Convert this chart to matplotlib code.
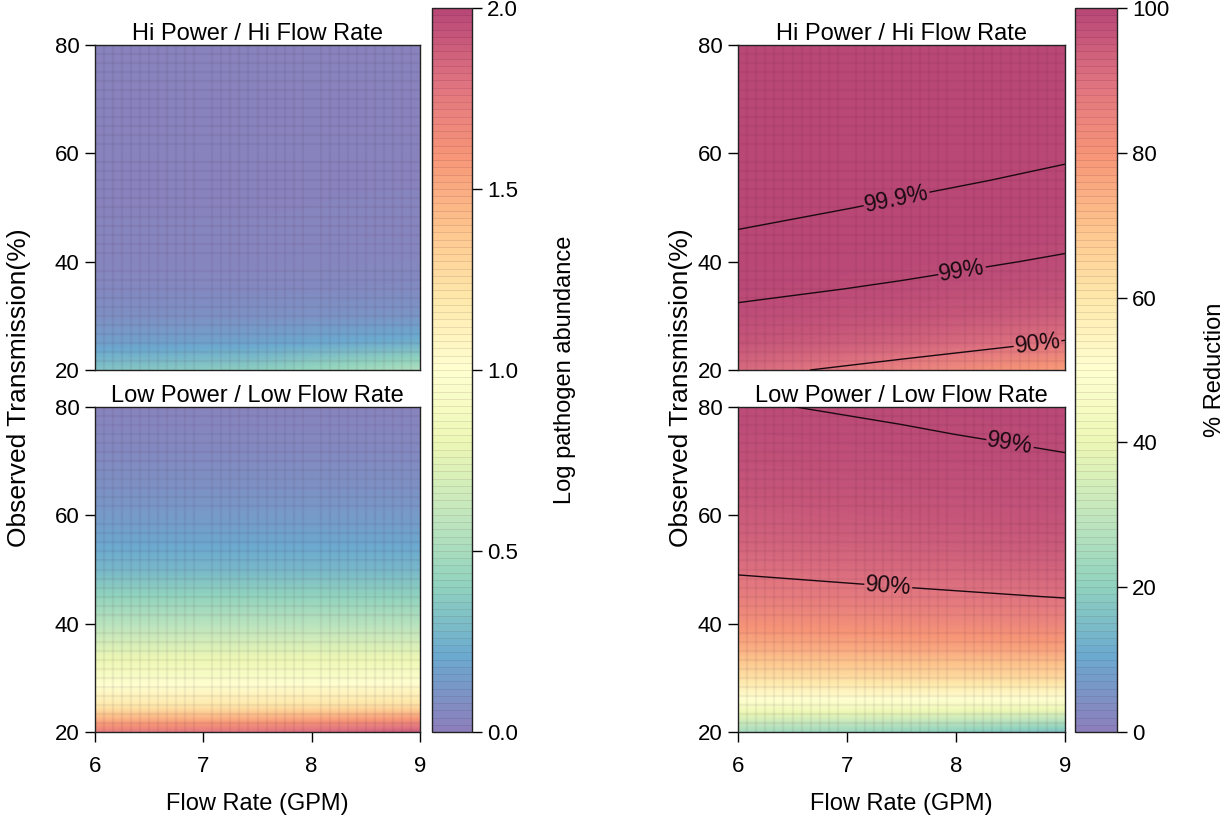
import numpy as np
import matplotlib
matplotlib.use("Agg")
import matplotlib.pyplot as plt
from matplotlib.colors import ListedColormap, Normalize
from matplotlib.cm import ScalarMappable

plt.rcParams["font.family"] = ["Liberation Sans", "DejaVu Sans"]

# ---------------------------------------------------------------------------
# Data: rows follow transmission_pct, columns follow flow_gpm
# ---------------------------------------------------------------------------
flow_gpm = [6.0, 7.5, 9.0]
transmission_pct = [20, 25, 30, 35, 40, 45, 50, 55, 60, 65, 70, 75, 80]

# remaining log pathogen abundance
log_abund_hi = [
    [0.33, 0.38, 0.52],
    [0.16, 0.18, 0.24],
    [0.08, 0.09, 0.11],
    [0.05, 0.05, 0.06],
    [0.03, 0.03, 0.04],
    [0.03, 0.03, 0.03],
    [0.02, 0.02, 0.03],
    [0.02, 0.02, 0.02],
    [0.02, 0.02, 0.02],
    [0.02, 0.02, 0.02],
    [0.02, 0.02, 0.02],
    [0.02, 0.02, 0.02],
    [0.02, 0.02, 0.02],
]
log_abund_low = [
    [1.74, 1.80, 1.92],
    [1.18, 1.20, 1.24],
    [0.93, 0.94, 0.95],
    [0.74, 0.74, 0.74],
    [0.56, 0.56, 0.55],
    [0.41, 0.41, 0.40],
    [0.27, 0.27, 0.27],
    [0.19, 0.19, 0.19],
    [0.13, 0.13, 0.13],
    [0.09, 0.09, 0.09],
    [0.06, 0.06, 0.06],
    [0.04, 0.04, 0.04],
    [0.02, 0.02, 0.02],
]

# log10 reduction (1 = 90 %, 2 = 99 %, 3 = 99.9 %)
log_red_hi = [
    [1.11, 0.86, 0.66],
    [1.47, 1.21, 0.97],
    [1.82, 1.55, 1.28],
    [2.19, 1.90, 1.59],
    [2.56, 2.23, 1.91],
    [2.93, 2.56, 2.21],
    [3.30, 2.88, 2.52],
    [3.67, 3.21, 2.82],
    [4.04, 3.54, 3.12],
    [4.41, 3.86, 3.42],
    [4.78, 4.19, 3.73],
    [5.15, 4.51, 4.03],
    [5.52, 4.84, 4.33],
]
log_red_low = [
    [0.12, 0.10, 0.07],
    [0.27, 0.27, 0.26],
    [0.42, 0.44, 0.45],
    [0.58, 0.61, 0.63],
    [0.73, 0.77, 0.82],
    [0.88, 0.94, 1.01],
    [1.03, 1.11, 1.20],
    [1.18, 1.27, 1.38],
    [1.33, 1.44, 1.57],
    [1.48, 1.61, 1.76],
    [1.64, 1.78, 1.94],
    [1.79, 1.94, 2.13],
    [1.94, 2.11, 2.32],
]

contour_levels = [1, 2, 3]
contour_text = {1: "90%", 2: "99%", 3: "99.9%"}

panel_titles = ["Hi Power / Hi Flow Rate", "Low Power / Low Flow Rate"]
abund_ticks = [0.0, 0.5, 1.0, 1.5, 2.0]
reduction_ticks = [0, 20, 40, 60, 80, 100]
flow_ticks = [6, 7, 8, 9]
trans_ticks = [20, 40, 60, 80]

# ---------------------------------------------------------------------------
# Colours: Spectral (reversed) washed with white, as semi-transparent fills
# ---------------------------------------------------------------------------
WASH = 0.72
base = plt.get_cmap("Spectral_r")


def washed(n):
    c = base(np.linspace(0, 1, n))
    c[:, :3] = WASH * c[:, :3] + (1 - WASH)
    return ListedColormap(c)


field_cmap = washed(512)
bar_cmap = washed(100)

W, H = 1231, 818
fig = plt.figure(figsize=(W / 100, H / 100), dpi=100)


def box(left, top, right, bottom):
    return [left / W, 1 - bottom / H, (right - left) / W, (bottom - top) / H]


FS_TICK = 16
FS_TEXT = 17
FS_YLAB = 19


def percent(lrv):
    return 100.0 * (1.0 - 10.0 ** (-np.asarray(lrv, dtype=float)))


def draw_field(ax, z, vmin, vmax):
    fx = np.asarray(flow_gpm)
    ty = np.asarray(transmission_pct, dtype=float)
    hx = (fx[1] - fx[0]) / 2
    hy = (ty[1] - ty[0]) / 2
    ax.imshow(np.asarray(z), origin="lower", aspect="auto",
              extent=(fx[0] - hx, fx[-1] + hx, ty[0] - hy, ty[-1] + hy),
              cmap=field_cmap, vmin=vmin, vmax=vmax,
              interpolation="bilinear", interpolation_stage="data", zorder=0)
    ax.set_xlim(fx[0], fx[-1])
    ax.set_ylim(ty[0], ty[-1])
    # fine cell seams of the rendered raster
    ax.set_xticks(np.linspace(fx[0], fx[-1], 37), minor=True)
    ax.set_yticks(np.linspace(ty[0], ty[-1], 37), minor=True)
    ax.grid(which="minor", color="#3a1030", alpha=0.06, lw=1.6)
    ax.grid(which="major", visible=False)
    ax.tick_params(which="minor", length=0)


def style_axes(ax, title, bottom):
    ax.set_title(title, fontsize=FS_TEXT, pad=2)
    ax.set_yticks(trans_ticks)
    ax.set_xticks(flow_ticks)
    ax.tick_params(which="major", direction="out", length=7, width=1,
                   labelsize=FS_TICK, pad=4)
    if not bottom:
        ax.tick_params(axis="x", which="major", bottom=False, labelbottom=False)
    else:
        ax.tick_params(axis="x", pad=10)
    for s in ax.spines.values():
        s.set_linewidth(1.0)
        s.set_color("#222222")


def draw_contours(ax, lrv, hints):
    cs = ax.contour(flow_gpm, transmission_pct, np.asarray(lrv),
                    levels=contour_levels, colors="#1a0a10", linewidths=1.0,
                    zorder=3)
    ax.clabel(cs, fmt=contour_text, inline=True, inline_spacing=1,
              fontsize=FS_TEXT - 0.5, manual=hints)


def colorbar(cax, vmin, vmax, ticks, labels):
    sm = ScalarMappable(norm=Normalize(vmin, vmax), cmap=bar_cmap)
    cb = fig.colorbar(sm, cax=cax)
    cb.set_ticks(ticks)
    cb.set_ticklabels(labels)
    cb.ax.tick_params(direction="out", length=7, width=1,
                      labelsize=FS_TICK, pad=4)
    cb.outline.set_linewidth(1.0)
    cb.outline.set_edgecolor("#222222")
    cb.solids.set_edgecolor((0.2, 0.05, 0.15, 0.10))
    cb.solids.set_linewidth(0.6)
    return cb


# left column: log pathogen abundance
ax_lt = fig.add_axes(box(95, 45, 420, 370))
ax_lb = fig.add_axes(box(95, 407, 420, 732))
for ax, z, title, bottom in [(ax_lt, log_abund_hi, panel_titles[0], False),
                             (ax_lb, log_abund_low, panel_titles[1], True)]:
    draw_field(ax, z, 0.0, 2.0)
    style_axes(ax, title, bottom)
ax_lb.set_xlabel("Flow Rate (GPM)", fontsize=FS_TEXT, labelpad=12)

cax_l = fig.add_axes(box(432, 8, 472, 732))
colorbar(cax_l, 0.0, 2.0, abund_ticks, [f"{t:.1f}" for t in abund_ticks])
fig.text(565 / W, 1 - 370 / H, "Log pathogen abundance", rotation=90,
         ha="center", va="center", fontsize=FS_TEXT)
fig.text(19 / W, 1 - 388 / H, "Observed Transmission(%)", rotation=90,
         ha="center", va="center", fontsize=FS_YLAB)

# right column: percent reduction with log-reduction contours
ax_rt = fig.add_axes(box(738, 45, 1065, 370))
ax_rb = fig.add_axes(box(738, 407, 1065, 732))
for ax, lrv, title, bottom in [(ax_rt, log_red_hi, panel_titles[0], False),
                               (ax_rb, log_red_low, panel_titles[1], True)]:
    draw_field(ax, percent(lrv), 0.0, 100.0)
    style_axes(ax, title, bottom)
draw_contours(ax_rt, log_red_hi, [(7.45, 52.0), (8.05, 39.0), (8.75, 24.5)])
draw_contours(ax_rb, log_red_low, [(8.5, 73.8), (7.38, 47.3)])
ax_rb.set_xlabel("Flow Rate (GPM)", fontsize=FS_TEXT, labelpad=12)

cax_r = fig.add_axes(box(1075, 8, 1117, 732))
colorbar(cax_r, 0.0, 100.0, reduction_ticks, [str(t) for t in reduction_ticks])
fig.text(1215 / W, 1 - 370 / H, "% Reduction", rotation=90,
         ha="center", va="center", fontsize=FS_TEXT)
fig.text(681 / W, 1 - 388 / H, "Observed Transmission(%)", rotation=90,
         ha="center", va="center", fontsize=FS_YLAB)

fig.savefig("out.png", dpi=100)
